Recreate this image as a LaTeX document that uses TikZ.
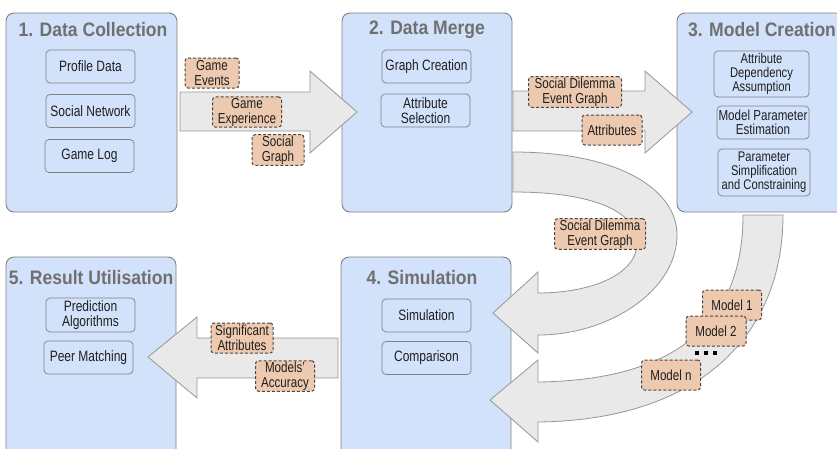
\documentclass[tikz,border=0pt]{standalone}
\usepackage{fontspec}
\setmainfont[FakeStretch=0.8]{Liberation Sans}
\newfontfamily\headfont[FakeStretch=0.9]{Liberation Sans}
\usetikzlibrary{positioning}

\definecolor{stageblue}{RGB}{210,226,251}
\definecolor{stageline}{RGB}{128,128,128}
\definecolor{headgray}{RGB}{112,112,112}
\definecolor{flowfill}{RGB}{233,233,233}
\definecolor{flowline}{RGB}{150,150,150}
\definecolor{tagpeach}{RGB}{237,201,175}
\definecolor{tagline}{RGB}{70,70,70}

\begin{document}
\begin{tikzpicture}[x=1pt,y=1pt,yscale=-1,
  stage/.style={draw=stageline, fill=stageblue, line width=0.9pt, rounded corners=8pt},
  heading/.style={font=\headfont\fontsize{19.5}{21}\bfseries\selectfont, text=headgray, inner sep=0pt},
  task/.style={draw=stageline, fill=stageblue, line width=0.7pt, rounded corners=4pt, align=center,
    inner sep=0.5pt, font=\fontsize{15}{14.5}\selectfont, text=black!88, minimum width=89pt, minimum height=33pt},
  flow/.style={draw=flowline, fill=flowfill, line width=0.8pt},
  tag/.style={draw=tagline, fill=tagpeach, dash pattern=on 3pt off 2pt, line width=1pt, rounded corners=3pt,
    align=center, inner sep=1pt, font=\fontsize{14.5}{15}\selectfont, text=black!88, minimum height=30pt}]
\useasboundingbox (0,0) rectangle (837,448);
\clip (0,0) rectangle (837,448);

%Shape: Stages
\draw [stage] (6,13) rectangle (177,212);
\draw [stage] (342,13) rectangle (512,212);
\draw [stage] (677,13) rectangle (847,212);
\draw [stage] (341,257) rectangle (511,470);
\draw [stage] (6,257) rectangle (176,470);

%Shape: Straight arrows
\draw [flow] (180,92) -- (310,92) -- (310,71) -- (357,112) -- (310,153) -- (310,131) -- (180,131) -- cycle;
\draw [flow] (513,91) -- (645,91) -- (645,71) -- (692,112) -- (645,153) -- (645,131) -- (513,131) -- cycle;
\draw [flow] (338,338) -- (197,338) -- (197,317) -- (148,357) -- (197,398) -- (197,378) -- (338,378) -- cycle;

%Shape: Curved arrow back to simulation
\draw [flow] (513,152) .. controls (620,152) and (677,190) .. (677,235) .. controls (677,290) and (610,335) .. (538,335)
  -- (538,353) -- (493,313) -- (538,272) -- (538,293)
  .. controls (590,293) and (637,275) .. (637,243) .. controls (637,210) and (590,192) .. (513,192) -- cycle;
%Shape: Curved arrow with the models
\draw [flow] (743,215) -- (783,215) .. controls (783,335) and (700,420) .. (538,422)
  -- (538,442) -- (490,400) -- (538,360) -- (538,382)
  .. controls (680,380) and (743,320) .. (743,215) -- cycle;

% Text Node
\node [heading] (h1) at (93,30) {1. Data Collection};
\node [heading] (h2) at (427,30) {2. Data Merge};
\node [heading] (h3) at (762,30) {3. Model Creation};
\node [heading] (h4) at (422,278) {4. Simulation};
\node [heading] (h5) at (91,278) {5. Result Utilisation};

% Text Node
\node [task] (profile) at (90.5,66.5) {Profile Data};
\node [task] (network) at (90.5,111) {Social Network};
\node [task] (gamelog) at (89.5,156) {Game Log};
\node [task] (graph) at (426.5,66.5) {Graph Creation};
\node [task] (select) at (425.5,110.5) {Attribute\\Selection};
\node [task, minimum width=95pt, minimum height=46pt, font=\fontsize{14}{14}\selectfont] (depend) at (761.5,74) {Attribute\\Dependency\\Assumption};
\node [task, minimum width=92pt, font=\fontsize{14.5}{14}\selectfont] (estim) at (763,122.5) {Model Parameter\\Estimation};
\node [task, minimum width=92pt, minimum height=47pt, font=\fontsize{14}{14}\selectfont] (simplify) at (764,172.5) {Parameter\\Simplification\\and Constraining};
\node [task] (simrun) at (426.5,315.5) {Simulation};
\node [task] (compare) at (426.5,358) {Comparison};
\node [task, minimum height=34pt] (predict) at (90.5,315) {Prediction\\Algorithms};
\node [task] (peer) at (88.5,357.5) {Peer Matching};

% Text Node
\node [tag, minimum width=54pt] (events) at (212,73) {Game\\Events};
\node [tag, minimum width=69pt] (experience) at (247,112) {Game\\Experience};
\node [tag, minimum width=52pt] (social) at (278,150) {Social\\Graph};
\node [tag, minimum width=93pt] (dilemma) at (575,92) {Social Dilemma\\Event Graph};
\node [tag, minimum width=60pt] (attrib) at (612,130) {Attributes};
\node [tag, minimum width=91pt] (dilemmab) at (600,234) {Social Dilemma\\Event Graph};
\node [tag, minimum width=59pt] (model1) at (732,305) {Model 1};
\node [tag, minimum width=60pt] (model2) at (716,331) {Model 2};
\node [tag, minimum width=59pt] (modeln) at (671,375) {Model n};
\node [tag, minimum width=62pt] (signif) at (242,338) {Significant\\Attributes};
\node [tag, minimum width=59pt] (accuracy) at (285,376) {Models'\\Accuracy};

%Shape: dots
\foreach \dx in {697,706,715}
  \fill (\dx-2,351) rectangle (\dx+2,355);

\end{tikzpicture}
\end{document}
